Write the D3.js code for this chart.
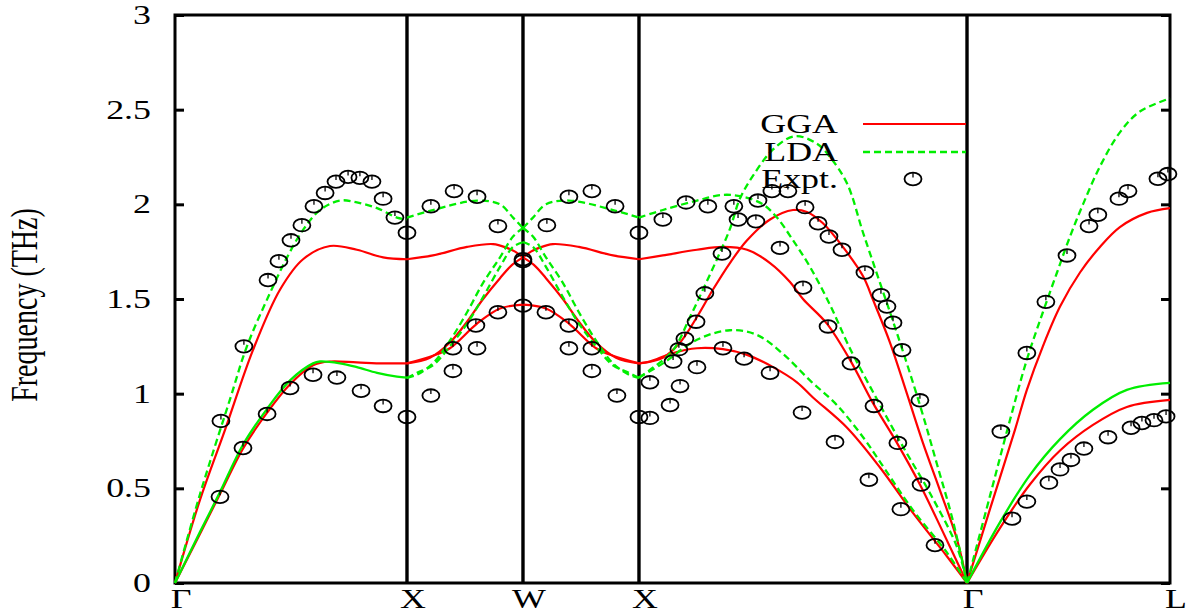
<!DOCTYPE html>
<html><head><meta charset="utf-8">
<script src="https://cdn.jsdelivr.net/npm/d3@7"></script>
<style>body{margin:0;background:#fff}svg{display:block}</style>
</head><body><svg id="chart" width="1188" height="614"></svg>
<script>
// ---------- data ----------
const kTicks = [0, 1, 1.5, 2, 3.414, 4.289];
const kLabels = ["Γ", "X", "W", "X", "Γ", "L"];
const yTicks = [0, 0.5, 1, 1.5, 2, 2.5, 3];
const yTickLabels = ["0", "0.5", "1", "1.5", "2", "2.5", "3"];

// GGA (red, solid)
const ggaGX_LA = [[0,0],[0.108,0.44],[0.216,0.81],[0.336,1.23],[0.453,1.55],[0.552,1.71],[0.668,1.78],[0.784,1.76],[0.897,1.72],[1,1.71]];
const ggaGX_TA = [[0,0],[0.108,0.26],[0.194,0.47],[0.293,0.71],[0.397,0.90],[0.496,1.05],[0.595,1.15],[0.668,1.17],[0.784,1.165],[0.9,1.16],[1,1.16]];
const ggaXW_low = [[1,1.16],[1.112,1.20],[1.185,1.24],[1.302,1.37],[1.401,1.45],[1.5,1.47]];
const ggaXW_mid = [[1,1.16],[1.099,1.19],[1.185,1.27],[1.259,1.38],[1.328,1.50],[1.401,1.61],[1.453,1.68],[1.5,1.72]];
const ggaXW_up = [[1,1.71],[1.112,1.73],[1.259,1.775],[1.371,1.79],[1.431,1.77],[1.466,1.75],[1.5,1.72]];
const ggaWX_low = [[1.5,1.47],[1.599,1.45],[1.698,1.37],[1.815,1.24],[1.888,1.20],[2,1.16]];
const ggaWX_mid = [[1.5,1.72],[1.534,1.75],[1.569,1.77],[1.629,1.79],[1.741,1.775],[1.888,1.73],[2,1.71]];
const ggaWX_up = [[1.5,1.72],[1.547,1.68],[1.599,1.61],[1.672,1.50],[1.741,1.38],[1.815,1.27],[1.901,1.19],[2,1.16]];
const ggaXG_A = [[2,1.16],[2.047,1.17],[2.147,1.215],[2.25,1.24],[2.362,1.235],[2.466,1.205],[2.578,1.14],[2.681,1.06],[2.75,0.98],[2.897,0.82],[3.039,0.61],[3.181,0.37],[3.328,0.14],[3.414,0]];
const ggaXG_B = [[2,1.71],[2.103,1.73],[2.25,1.76],[2.362,1.775],[2.466,1.76],[2.565,1.69],[2.651,1.59],[2.707,1.50],[2.81,1.37],[2.909,1.18],[3.009,0.95],[3.112,0.74],[3.211,0.52],[3.31,0.27],[3.414,0]];
const ggaXG_C = [[2,1.16],[2.103,1.19],[2.177,1.27],[2.25,1.405],[2.319,1.55],[2.392,1.69],[2.466,1.81],[2.565,1.92],[2.664,1.97],[2.724,1.96],[2.793,1.90],[2.879,1.775],[2.966,1.62],[3.009,1.495],[3.082,1.27],[3.155,1.00],[3.224,0.74],[3.297,0.49],[3.371,0.23],[3.414,0]];
const ggaGL_LA = [[3.414,0],[3.513,0.39],[3.621,0.81],[3.672,1.02],[3.741,1.25],[3.815,1.46],[3.901,1.64],[3.987,1.775],[4.073,1.88],[4.19,1.955],[4.289,1.98]];
const ggaGL_TA = [[3.414,0],[3.556,0.29],[3.685,0.52],[3.815,0.70],[3.957,0.835],[4.103,0.93],[4.289,0.967]];

// LDA (green, dashed)
const ldaGX_LA = [[0,0],[0.108,0.47],[0.237,0.97],[0.31,1.25],[0.409,1.53],[0.483,1.72],[0.552,1.865],[0.625,1.97],[0.711,2.02],[0.784,2.01],[0.871,1.98],[0.957,1.93],[1,1.92]];
const ldaGX_TA = [[0,0],[0.108,0.27],[0.194,0.48],[0.293,0.73],[0.397,0.92],[0.496,1.07],[0.595,1.16],[0.625,1.17],[0.711,1.16],[0.784,1.14],[0.871,1.11],[0.957,1.09],[1,1.085]];
const ldaXW_up = [[1,1.93],[1.112,1.97],[1.302,2.02],[1.401,2.0],[1.457,1.93],[1.5,1.875]];
const ldaXW_mid = [[1,1.083],[1.043,1.10],[1.112,1.16],[1.185,1.28],[1.259,1.43],[1.328,1.585],[1.401,1.72],[1.457,1.83],[1.5,1.875]];
const ldaXW_low = [[1,1.083],[1.043,1.11],[1.112,1.15],[1.185,1.25],[1.259,1.37],[1.328,1.51],[1.401,1.67],[1.457,1.775],[1.5,1.80]];
const ldaWX_up = [[1.5,1.875],[1.543,1.83],[1.599,1.72],[1.672,1.585],[1.741,1.43],[1.815,1.28],[1.888,1.16],[1.957,1.10],[2,1.083]];
const ldaWX_mid = [[1.5,1.875],[1.543,1.93],[1.599,2.0],[1.698,2.02],[1.888,1.97],[2,1.93]];
const ldaWX_low = [[1.5,1.80],[1.543,1.775],[1.599,1.67],[1.672,1.51],[1.741,1.37],[1.815,1.25],[1.888,1.15],[1.957,1.11],[2,1.083]];
const ldaXG_LA = [[2,1.085],[2.047,1.125],[2.147,1.23],[2.22,1.405],[2.276,1.55],[2.336,1.71],[2.392,1.87],[2.435,2.03],[2.491,2.15],[2.578,2.29],[2.672,2.36],[2.767,2.32],[2.823,2.25],[2.897,2.11],[2.966,1.85],[3.039,1.585],[3.112,1.32],[3.211,0.94],[3.284,0.63],[3.353,0.33],[3.414,0]];
const ldaXG_mid = [[2,1.93],[2.103,1.97],[2.25,2.02],[2.362,2.05],[2.448,2.04],[2.534,2.0],[2.595,1.93],[2.664,1.81],[2.737,1.67],[2.823,1.47],[2.909,1.24],[3.026,0.97],[3.138,0.72],[3.254,0.475],[3.371,0.19],[3.414,0]];
const ldaXG_low = [[2,1.085],[2.103,1.16],[2.25,1.285],[2.392,1.335],[2.509,1.31],[2.621,1.21],[2.737,1.07],[2.853,0.94],[2.966,0.77],[3.039,0.64],[3.181,0.385],[3.328,0.16],[3.414,0]];
const ldaGL_LA = [[3.414,0],[3.513,0.46],[3.599,0.86],[3.672,1.18],[3.741,1.43],[3.802,1.64],[3.858,1.83],[3.914,2.0],[3.987,2.2],[4.073,2.38],[4.159,2.49],[4.289,2.56]];
const ldaGL_TA = [[3.414,0],[3.556,0.32],[3.685,0.57],[3.815,0.76],[3.957,0.915],[4.103,1.02],[4.289,1.057]];

// Experiment (open symbols)
const exptGX = [[0.194,0.455],[0.198,0.856],[0.293,0.713],[0.297,1.25],[0.397,0.893],[0.401,1.60],[0.448,1.70],[0.496,1.03],[0.5,1.81],[0.547,1.89],[0.595,1.10],[0.599,1.99],[0.647,2.06],[0.694,2.12],[0.698,1.085],[0.746,2.145],[0.797,2.14],[0.802,1.015],[0.849,2.12],[0.897,2.03],[0.897,0.935],[0.948,1.93],[1,1.85],[1,0.877]];
const exptXW = [[1.103,1.99],[1.203,2.07],[1.302,2.04],[1.392,1.885],[1.103,0.99],[1.198,1.12],[1.198,1.24],[1.302,1.24],[1.297,1.36],[1.392,1.43],[1.5,1.70],[1.5,1.71],[1.5,1.465]];
const exptWX = [[1.599,1.43],[1.603,1.89],[1.698,2.04],[1.797,2.07],[1.897,1.99],[2,1.85],[1.698,1.36],[1.698,1.24],[1.797,1.24],[1.797,1.12],[1.905,0.99],[2,0.877]];
const exptXG = [[2.047,0.872],[2.047,1.06],[2.103,1.92],[2.134,0.94],[2.147,1.17],[2.172,1.235],[2.177,1.04],[2.198,1.29],[2.203,2.01],[2.246,1.38],[2.25,1.14],[2.284,1.53],[2.297,1.99],[2.358,1.74],[2.362,1.24],[2.409,1.99],[2.427,1.92],[2.453,1.185],[2.504,1.91],[2.513,2.02],[2.565,1.11],[2.573,2.07],[2.608,1.77],[2.642,2.07],[2.703,0.90],[2.707,1.56],[2.716,1.985],[2.772,1.90],[2.815,1.355],[2.819,1.83],[2.845,0.745],[2.875,1.76],[2.914,1.16],[2.974,1.64],[2.991,0.545],[3.013,0.935],[3.043,1.52],[3.069,1.46],[3.095,1.375],[3.116,0.74],[3.129,0.39],[3.134,1.23],[3.211,0.965],[3.216,0.52],[3.276,0.20]];
const exptGL = [[3.56,0.80],[3.608,0.34],[3.672,1.215],[3.672,0.43],[3.754,1.485],[3.767,0.53],[3.815,0.60],[3.845,1.73],[3.862,0.65],[3.918,0.71],[3.94,1.885],[3.978,1.945],[4.022,0.77],[4.069,2.03],[4.108,2.07],[4.121,0.82],[4.168,0.845],[4.22,0.86],[4.237,2.135],[4.272,0.88],[4.28,2.16]];

const legendLabels = ["GGA", "LDA", "Expt."];
const yTitle = "Frequency (THz)";

// ---------- drawing ----------
const ggaBranches = [ggaGX_LA, ggaGX_TA, ggaXW_low, ggaXW_mid, ggaXW_up, ggaWX_low, ggaWX_mid, ggaWX_up, ggaXG_A, ggaXG_B, ggaXG_C, ggaGL_LA, ggaGL_TA];
const ldaDashed = [ldaGX_LA, ldaXW_up, ldaXW_mid, ldaXW_low, ldaWX_up, ldaWX_mid, ldaWX_low, ldaXG_LA, ldaXG_mid, ldaXG_low, ldaGL_LA];
const ldaDegenerate = [ldaGX_TA, ldaGL_TA];
const expt = [].concat(exptGX, exptXW, exptWX, exptXG, exptGL);

const FONT = "'Liberation Serif','Times New Roman',Times,serif";
const SX = 1.33;
const RED = "#ff0000", GREEN = "#00ee00";
const plot = {left: 175, right: 1170, top: 15, bottom: 583};

const svg = d3.select("#chart");
const x = d3.scaleLinear().domain([0, 4.289]).range([plot.left, plot.right]);
const y = d3.scaleLinear().domain([0, 3]).range([plot.bottom, plot.top]);

// vertical symmetry lines
svg.append("g").selectAll("line").data(kTicks.slice(1, -1)).join("line")
  .attr("x1", d => x(d)).attr("x2", d => x(d))
  .attr("y1", y(0)).attr("y2", y(3))
  .attr("stroke", "#000").attr("stroke-width", 3.4);

// frame
svg.append("rect").attr("x", plot.left).attr("y", plot.top)
  .attr("width", plot.right - plot.left).attr("height", plot.bottom - plot.top)
  .attr("fill", "none").attr("stroke", "#000").attr("stroke-width", 3);

// left axis
const yl = svg.append("g").attr("transform", `translate(${plot.left},0)`)
  .call(d3.axisLeft(y).tickValues(yTicks).tickFormat((d, i) => yTickLabels[i]).tickSize(-9).tickPadding(24));
yl.select(".domain").remove();
yl.selectAll(".tick line").attr("stroke", "#000").attr("stroke-width", 3);
yl.selectAll(".tick text").attr("x", 0).attr("transform", `translate(-24,0) scale(${SX},1)`)
  .attr("font-family", FONT).attr("font-size", 27).attr("fill", "#000");

// right axis (ticks only)
const yr = svg.append("g").attr("transform", `translate(${plot.right},0)`)
  .call(d3.axisRight(y).tickValues(yTicks).tickFormat(() => "").tickSize(-9));
yr.select(".domain").remove();
yr.selectAll(".tick line").attr("stroke", "#000").attr("stroke-width", 3);

// x labels
svg.append("g").selectAll("text").data(kTicks).join("text")
  .attr("transform", d => `translate(${x(d) + 6},608) scale(${SX},1)`)
  .attr("text-anchor", "middle").attr("font-family", FONT).attr("font-size", 27).attr("fill", "#000")
  .text((d, i) => kLabels[i]);

// y title
svg.append("text")
  .attr("transform", `translate(37,305) scale(${SX},1) rotate(-90)`)
  .attr("text-anchor", "middle").attr("font-family", FONT).attr("font-size", 28).attr("fill", "#000")
  .text(yTitle);

const line = d3.line().x(d => x(d[0])).y(d => y(d[1])).curve(d3.curveCatmullRom.alpha(0.5));

svg.append("g").selectAll("path").data(ggaBranches).join("path")
  .attr("d", line).attr("fill", "none").attr("stroke", RED).attr("stroke-width", 2.2);
svg.append("g").selectAll("path").data(ldaDegenerate).join("path")
  .attr("d", line).attr("fill", "none").attr("stroke", GREEN).attr("stroke-width", 2.3);
svg.append("g").selectAll("path").data(ldaDashed).join("path")
  .attr("d", line).attr("fill", "none").attr("stroke", GREEN).attr("stroke-width", 2.3)
  .attr("stroke-dasharray", "7,4");

function symbol(g) {
  g.append("ellipse").attr("rx", 8.5).attr("ry", 6.3)
    .attr("fill", "none").attr("stroke", "#000").attr("stroke-width", 1.8);
  g.append("line").attr("x1", 0).attr("x2", 0).attr("y1", -6.3).attr("y2", -1.5)
    .attr("stroke", "#000").attr("stroke-width", 1.3);
}
svg.append("g").selectAll("g").data(expt).join("g")
  .attr("transform", d => `translate(${x(d[0])},${y(d[1])})`)
  .each(function() { symbol(d3.select(this)); });

// legend
const legY = [124, 152, 179];
const leg = svg.append("g");
leg.selectAll("text").data(legendLabels).join("text")
  .attr("transform", (d, i) => `translate(838,${legY[i] + 9}) scale(${SX},1)`)
  .attr("text-anchor", "end").attr("font-family", FONT).attr("font-size", 27).attr("fill", "#000")
  .text(d => d);
leg.append("line").attr("x1", 863).attr("x2", 966).attr("y1", legY[0]).attr("y2", legY[0])
  .attr("stroke", RED).attr("stroke-width", 2.2);
leg.append("line").attr("x1", 863).attr("x2", 966).attr("y1", legY[1]).attr("y2", legY[1])
  .attr("stroke", GREEN).attr("stroke-width", 2.3).attr("stroke-dasharray", "7,4");
leg.append("g").attr("transform", `translate(913,${legY[2]})`).call(symbol);
</script></body></html>
